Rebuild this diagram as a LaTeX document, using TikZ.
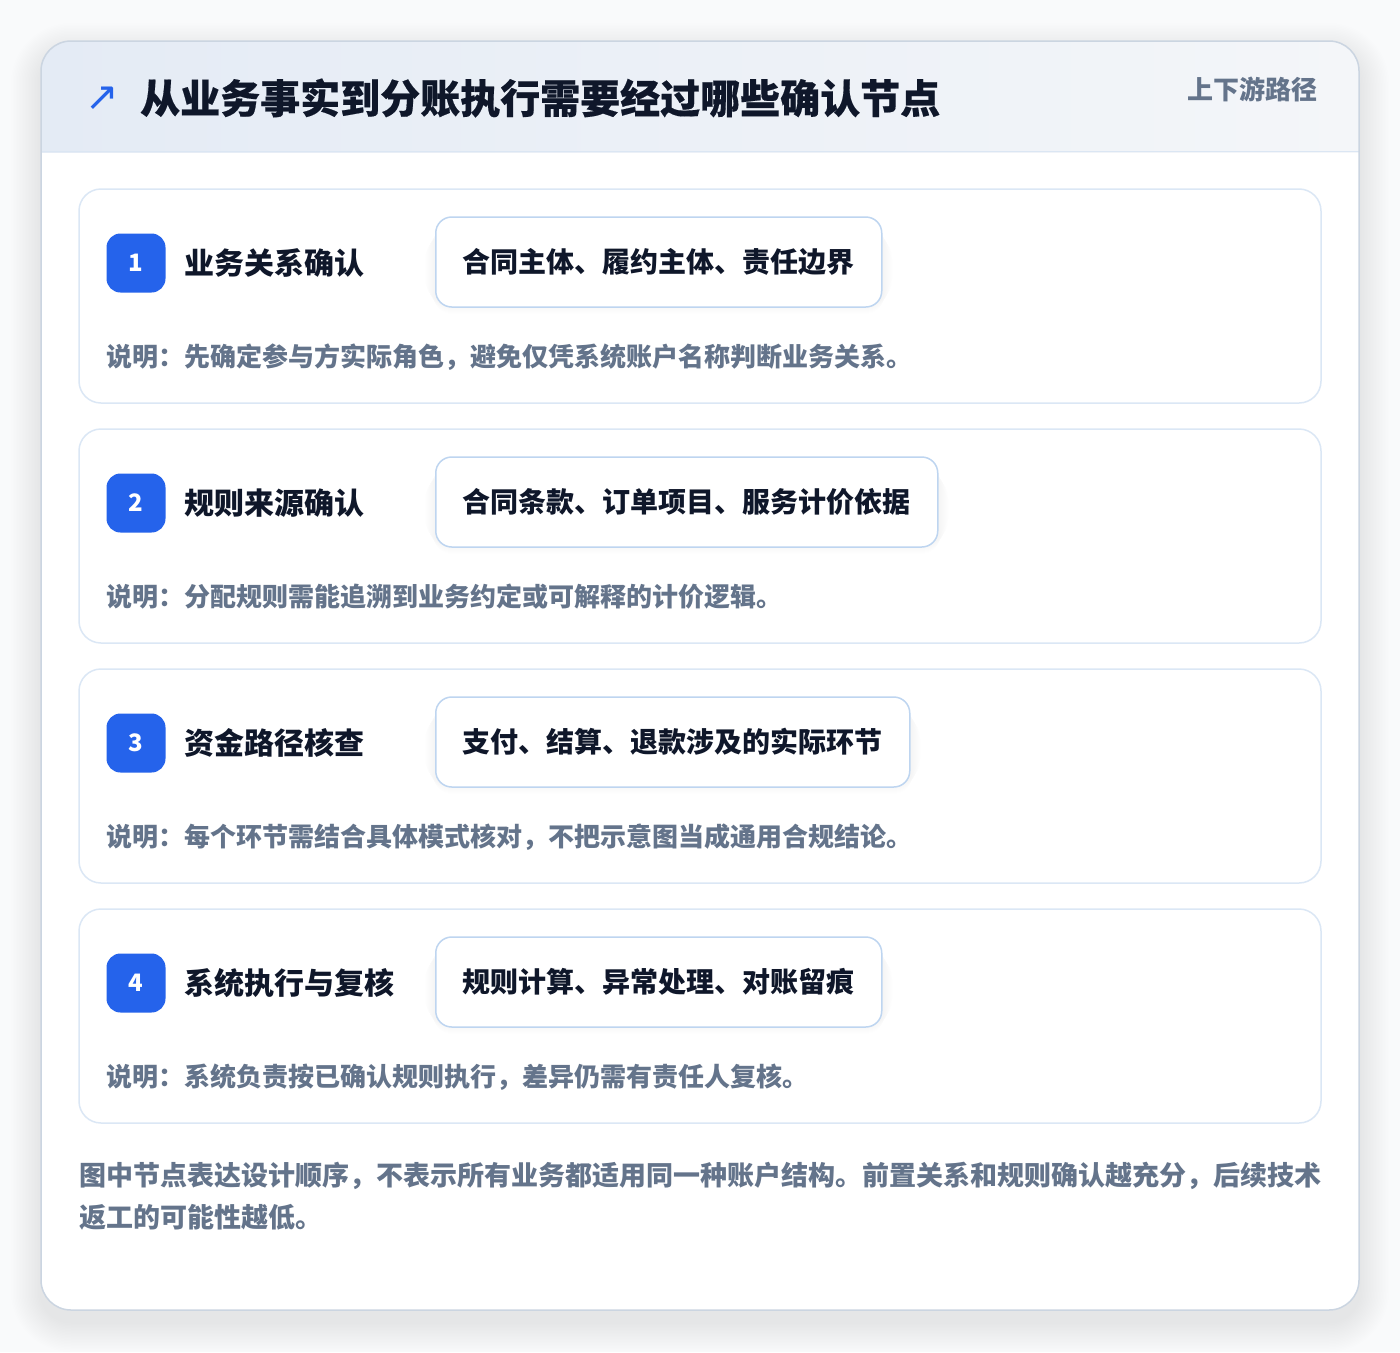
\documentclass[tikz,border=0pt]{standalone}
\usepackage{fontspec}
\setmainfont{Noto Sans CJK SC}
\newfontfamily\heavyfont{Noto Sans CJK SC}[BoldFeatures={FakeBold=0.4}]
\newfontfamily\symfont{DejaVu Sans}
\definecolor{accent}{RGB}{37,99,235}
\definecolor{ink}{RGB}{15,23,42}
\definecolor{muted}{RGB}{100,116,139}
\definecolor{cardline}{RGB}{219,231,245}
\definecolor{pillline}{RGB}{190,213,240}
\definecolor{panelline}{RGB}{203,213,225}
\definecolor{headleft}{RGB}{228,235,245}
\definecolor{headright}{RGB}{244,246,249}
\definecolor{headline}{RGB}{219,230,243}
\definecolor{pagebg}{RGB}{249,250,251}
\begin{document}
\begin{tikzpicture}[x=1pt,y=-1pt,
  card/.style={draw=cardline, line width=1.5pt, fill=white, rounded corners=22pt,
    minimum width=1242pt, minimum height=214pt, inner sep=0pt},
  badge/.style={fill=accent, rounded corners=14pt, minimum width=59pt, minimum height=59pt,
    inner sep=0pt, text=white, font=\fontsize{24}{28}\selectfont\bfseries},
  steplabel/.style={anchor=west, inner sep=0pt, text=ink, font=\fontsize{30}{36}\selectfont\bfseries},
  pill/.style={draw=pillline, line width=1.5pt, fill=white, rounded corners=16pt,
    minimum height=90pt, inner xsep=27pt, inner ysep=0pt, anchor=west, text=ink,
    font=\fontsize{28}{34}\selectfont\bfseries},
  note/.style={anchor=west, inner sep=0pt, text=muted, font=\fontsize{26}{32}\selectfont\bfseries}]
\useasboundingbox (0,0) rectangle (1400,1352);
\fill[pagebg] (0,0) rectangle (1400,1352);
% panel shadow
\foreach \k in {1,...,20}{
  \fill[black, opacity=0.005, rounded corners={30pt+1.5pt*\k}]
    ({41-1.5*\k},{41-1.5*\k+12}) rectangle ({1359+1.5*\k},{1310+1.5*\k+12});
}
\node[fill=white, rounded corners=30pt, minimum width=1318pt, minimum height=1269pt, inner sep=0pt]
  (panel) at (700,675.5) {};
\begin{scope}
  \clip[rounded corners=30pt] (41,41) rectangle (1359,1310);
  \shade[left color=headleft, right color=headright] (41,41) rectangle (1359,152);
\end{scope}
\draw[headline, line width=1.5pt] (41,151.5) -- (1359,151.5);
\draw[panelline, line width=1.5pt, rounded corners=30pt] (41,41) rectangle (1359,1310);
% header
\node[inner sep=0pt, text=accent, font=\symfont\fontsize{40}{44}\selectfont] (icon) at (102,99) {↗};
\node[anchor=west, inner sep=0pt, text=ink, font=\heavyfont\fontsize{40}{48}\selectfont\bfseries] (title) at (140,98)
  {从业务事实到分账执行需要经过哪些确认节点};
\node[anchor=east, inner sep=0pt, text=muted, font=\fontsize{26}{30}\selectfont\bfseries] (tag) at (1318,89)
  {上下游路径};
% steps
\foreach \i/\lab/\pilltext/\desc in {
  1/业务关系确认/合同主体、履约主体、责任边界/说明：先确定参与方实际角色，避免仅凭系统账户名称判断业务关系。,
  2/规则来源确认/合同条款、订单项目、服务计价依据/说明：分配规则需能追溯到业务约定或可解释的计价逻辑。,
  3/资金路径核查/支付、结算、退款涉及的实际环节/说明：每个环节需结合具体模式核对，不把示意图当成通用合规结论。,
  4/系统执行与复核/规则计算、异常处理、对账留痕/说明：系统负责按已确认规则执行，差异仍需有责任人复核。}{
  \pgfmathsetmacro{\yy}{189+240*(\i-1)}
  \node[card] (card\i) at (700,{\yy+107}) {};
  \node[badge] (badge\i) at (136,{\yy+74}) {\i};
  \node[steplabel] (label\i) at (184,{\yy+74}) {\lab};
  \node[pill, draw=none, fill=none, text opacity=0] (pillsize\i) at (435,{\yy+73}) {\pilltext};
  \foreach \s in {1,...,10}{
    \fill[black, opacity=0.005, rounded corners={16pt+\s*1pt}]
      ([xshift={-\s*1pt}, yshift={-\s*1pt-7pt}]pillsize\i.north west) rectangle
      ([xshift={\s*1pt}, yshift={\s*1pt-7pt}]pillsize\i.south east);
  }
  \node[pill] (pill\i) at (435,{\yy+73}) {\pilltext};
  \node[note] (note\i) at (106,{\yy+168}) {\desc};
}
% footer
\node[anchor=west, inner sep=0pt, align=left, text=muted, font=\fontsize{27}{42}\selectfont\bfseries] (footer) at (79,1196)
  {图中节点表达设计顺序，不表示所有业务都适用同一种账户结构。前置关系和规则确认越充分，后续技术\\返工的可能性越低。};
\end{tikzpicture}
\end{document}
